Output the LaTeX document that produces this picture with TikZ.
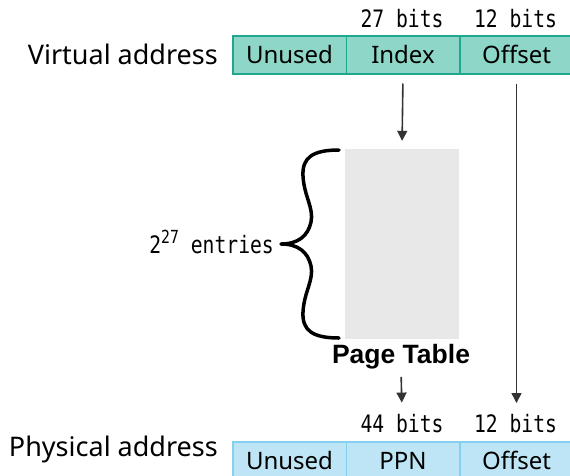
\documentclass[tikz,border=0pt]{standalone}
\usepackage{fontspec}
\setmainfont{Noto Sans}
\newfontfamily\monofont{DejaVu Sans Mono}
\newfontfamily\titlefont{Liberation Sans}
\usetikzlibrary{arrows.meta}
\definecolor{vfill}{HTML}{8ED7C8}
\definecolor{vline}{HTML}{1FA88E}
\definecolor{pfill}{HTML}{BEE5F5}
\definecolor{pline}{HTML}{84D0EE}
\definecolor{tablefill}{HTML}{E8E8E8}
\definecolor{arrowcol}{HTML}{333333}

% condensed monospace for bit widths and counts
\newcommand\monotext[1]{\scalebox{0.82}[1]{\monofont #1}}

\begin{document}
\begin{tikzpicture}[x=1pt,y=-1pt,
  field/.style={draw, line width=1.5pt, minimum width=113.5pt, minimum height=38pt,
    inner sep=0pt, text height=17pt, text depth=0pt,
    font=\fontsize{24}{24}\selectfont, anchor=north west},
  vfield/.style={field, fill=vfill, draw=vline},
  pfield/.style={field, fill=pfill, draw=pline},
  rowlabel/.style={font=\fontsize{27}{27}\selectfont, anchor=base east, inner sep=0pt},
  bitslabel/.style={font=\fontsize{24}{24}\selectfont, anchor=base, inner sep=0pt},
  link/.style={draw=arrowcol, line width=1.6pt, -{Triangle[length=10pt,width=10pt]}},
  bracepath/.style={line width=3.5pt, line cap=round, line join=round},
]
\useasboundingbox (0,0) rectangle (570,475);
\clip (0,0) rectangle (570,475);

% virtual address
\node[rowlabel] (vlabel) at (218,64) {Virtual address};
\node[vfield] (vunused) at (232,35) {Unused};
\node[vfield] (vidx) at (345.5,35) {Index};
\node[vfield] (voff) at (459,35) {Offset};
\node[bitslabel] (vbitsidx) at (402,27) {\monotext{27 bits}};
\node[bitslabel] (vbitsoff) at (515.5,27) {\monotext{12 bits}};

% page table
\node[fill=tablefill, minimum width=114pt, minimum height=190pt, inner sep=0pt]
  (ptable) at (402,244) {};
\node[font=\titlefont\fontsize{26.5}{26.5}\selectfont\bfseries, anchor=base, inner sep=0pt]
  (ptlabel) at (401,363) {Page Table};
\node[bitslabel, anchor=base east] (entries) at (274,253)
  {\monotext{2\raisebox{0.4em}{\fontsize{18}{18}\selectfont 27} entries}};

% brace spanning the table entries
\coordinate (btop) at (339,150);
\coordinate (bbot) at (339,338);
\coordinate (btip) at (281,244);
\draw[bracepath] (btop)
  .. controls (312,150) and (302,158) .. (303,176)
  .. controls (304,196) and (314,208) .. (311,222)
  .. controls (308,236) and (298,244) .. (btip)
  .. controls (298,244) and (308,252) .. (311,266)
  .. controls (314,280) and (304,292) .. (303,312)
  .. controls (302,330) and (312,338) .. (bbot);

% physical address
\node[rowlabel] (plabel) at (218,456) {Physical address};
\node[pfield] (punused) at (232,441) {Unused};
\node[pfield] (pppn) at (345.5,441) {PPN};
\node[pfield] (poff) at (459,441) {Offset};
\node[bitslabel] (pbitsppn) at (402,432) {\monotext{44 bits}};
\node[bitslabel] (pbitsoff) at (515.5,432) {\monotext{12 bits}};

% translation arrows
\draw[link, shorten <=9pt, shorten >=8pt] (vidx.south) -- (ptable.north);
\draw[link, shorten <=9pt, shorten >=38pt] (voff.south) -- (poff.north);
\draw[link, shorten <=8pt, shorten >=11pt] (ptlabel.south) -- (pbitsppn.north);
\end{tikzpicture}
\end{document}
